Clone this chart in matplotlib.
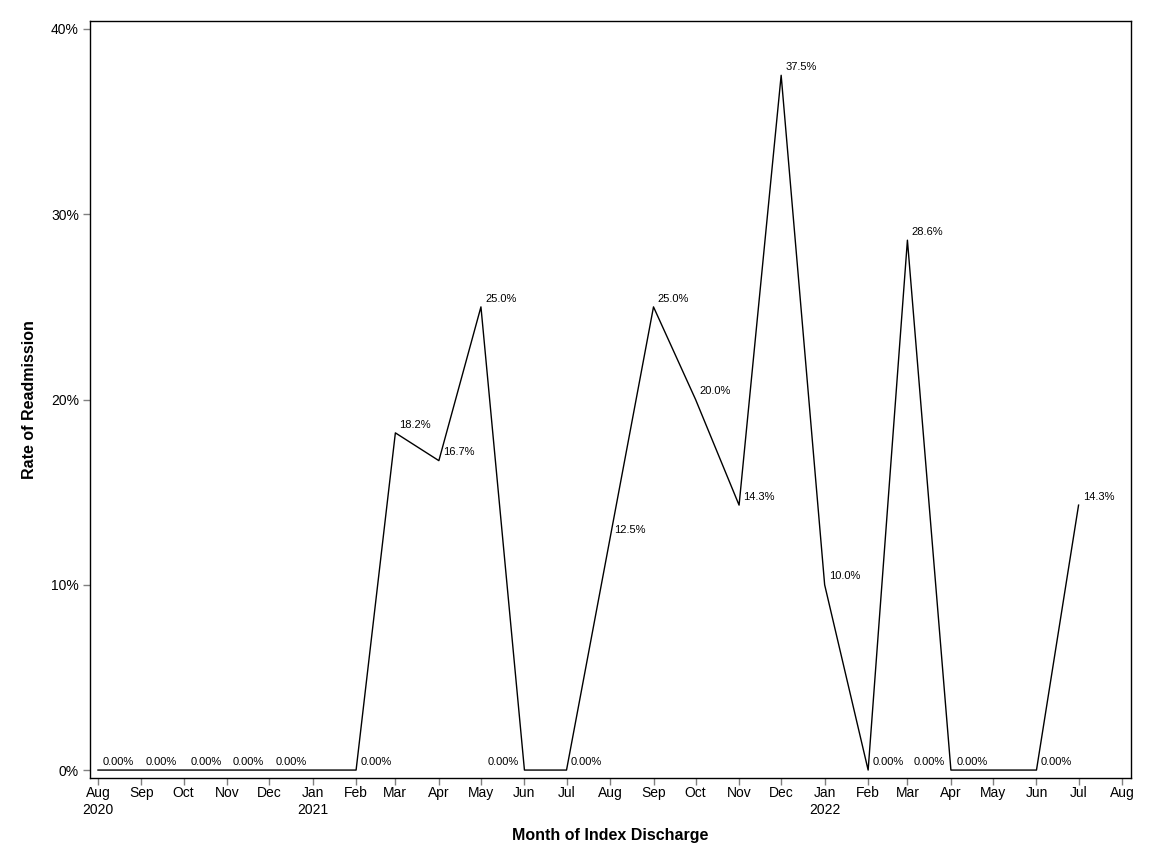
import matplotlib
matplotlib.use("Agg")
import matplotlib.pyplot as plt
import matplotlib.dates as mdates
from matplotlib.ticker import FixedLocator, FuncFormatter
import datetime as dt

plt.rcParams['font.family'] = ['Liberation Sans', 'DejaVu Sans']

# data: readmission rate (%) per month of index discharge
months = ["2020-08", "2020-09", "2020-10", "2020-11", "2020-12",
          "2021-01", "2021-02", "2021-03", "2021-04", "2021-05", "2021-06",
          "2021-07", "2021-08", "2021-09", "2021-10", "2021-11", "2021-12",
          "2022-01", "2022-02", "2022-03", "2022-04", "2022-05", "2022-06",
          "2022-07"]
rates = [0, 0, 0, 0, 0,
         0, 0, 18.2, 16.7, 25.0, 0,
         0, 12.5, 25.0, 20.0, 14.3, 37.5,
         10.0, 0, 28.6, 0, 0, 0,
         14.3]
# where each point label sits: R = right, L = left, '' = hidden
label_side = ["R", "R", "", "L", "L",
              "L", "R", "R", "R", "R", "L",
              "R", "R", "R", "R", "R", "R",
              "R", "R", "R", "L", "L", "R",
              "R"]

tick_months = ["2020-08", "2020-09", "2020-10", "2020-11", "2020-12",
               "2021-01", "2021-02", "2021-03", "2021-04", "2021-05", "2021-06",
               "2021-07", "2021-08", "2021-09", "2021-10", "2021-11", "2021-12",
               "2022-01", "2022-02", "2022-03", "2022-04", "2022-05", "2022-06",
               "2022-07", "2022-08"]
y_ticks = [0, 10, 20, 30, 40]


def to_date(s):
    y, m = s.split("-")
    return dt.date(int(y), int(m), 1)


x = [to_date(m) for m in months]
ticks = [to_date(m) for m in tick_months]

fig = plt.figure(figsize=(11.52, 8.64), dpi=100)
ax = fig.add_axes([0.0781, 0.0995, 0.9037, 0.8762])

ax.plot(x, rates, color='black', linewidth=1.0)

for xi, v, side in zip(x, rates, label_side):
    if not side:
        continue
    txt = "0.00%" if v == 0 else f"{v:.1f}%"
    if side == "R":
        ax.annotate(txt, (xi, v), xytext=(3, 6), textcoords='offset points',
                    ha='left', va='center', fontsize=8)
    else:
        ax.annotate(txt, (xi, v), xytext=(-4, 6), textcoords='offset points',
                    ha='right', va='center', fontsize=8)

ax.set_xlim(mdates.date2num(ticks[0]) - 5.7, mdates.date2num(ticks[-1]) + 6.4)
ax.set_ylim(-0.43, 40.43)

ax.xaxis.set_major_locator(FixedLocator(mdates.date2num(ticks)))


def xfmt(val, pos):
    d = mdates.num2date(val)
    lab = d.strftime("%b")
    if pos == 0 or d.month == 1:
        lab += "\n" + str(d.year)
    return lab


ax.xaxis.set_major_formatter(FuncFormatter(xfmt))
ax.set_yticks(y_ticks)
ax.set_yticklabels([f"{t}%" for t in y_ticks])

ax.tick_params(axis='both', direction='out', length=5, width=1,
               color='#808080', labelsize=10, labelcolor='black')
ax.tick_params(axis='y', pad=3)
ax.tick_params(axis='x', pad=1)
for sp in ax.spines.values():
    sp.set_linewidth(1.0)

ax.set_xlabel("Month of Index Discharge", fontsize=11.5, fontweight='bold', labelpad=8)
ax.set_ylabel("Rate of Readmission", fontsize=11.5, fontweight='bold', labelpad=10)

fig.savefig("out.png", dpi=100)
